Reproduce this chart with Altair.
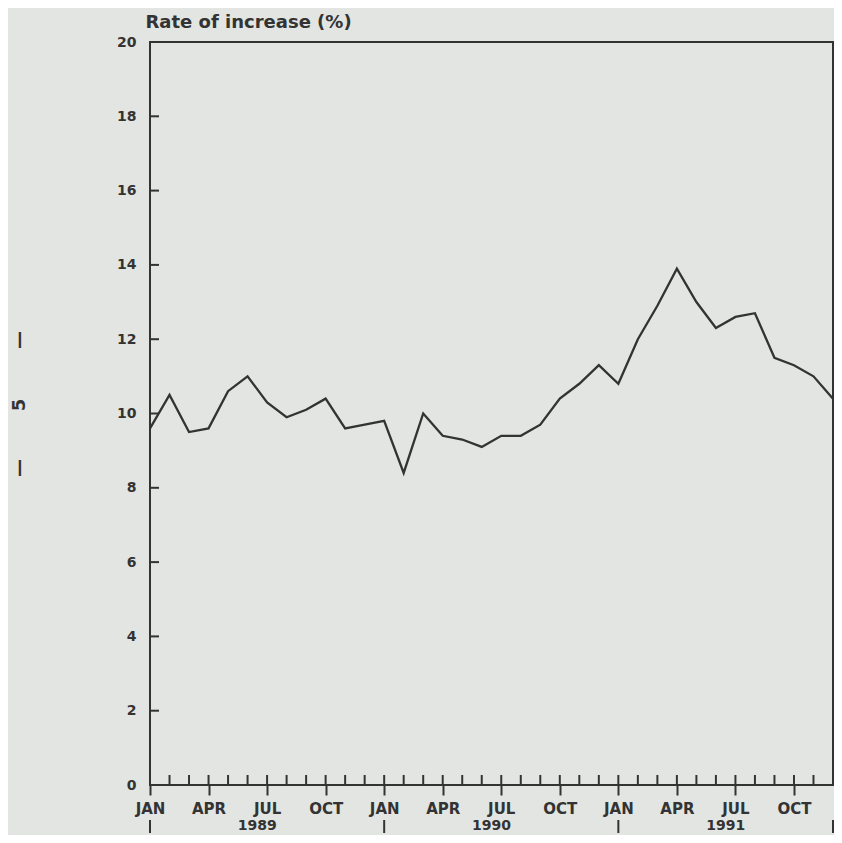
import altair as alt
import pandas as pd

# Monthly rate of increase (%), Jan 1989 .. Dec 1991
month_index = list(range(36))
rate = [9.6, 10.5, 9.5, 9.6, 10.6, 11.0, 10.3, 9.9, 10.1, 10.4, 9.6, 9.7,
        9.8, 8.4, 10.0, 9.4, 9.3, 9.1, 9.4, 9.4, 9.7, 10.4, 10.8, 11.3,
        10.8, 12.0, 12.9, 13.9, 13.0, 12.3, 12.6, 12.7, 11.5, 11.3, 11.0, 10.4]
quarter_ticks = [0, 3, 6, 9, 12, 15, 18, 21, 24, 27, 30, 33]
quarter_names = ["JAN", "APR", "JUL", "OCT"]
y_ticks = [0, 2, 4, 6, 8, 10, 12, 14, 16, 18, 20]
years = ["1989", "1990", "1991"]
year_centers = [5.5, 17.5, 29.5]
year_bounds = [0, 12, 24, 35]

INK = "#333333"
BG = "#e2e5e2"
FONT = "DejaVu Sans"

df = pd.DataFrame({"m": month_index, "v": rate})
df_yt = pd.DataFrame({"v": y_ticks[1:]})
df_mt = pd.DataFrame({"m": month_index})
df_yb = pd.DataFrame({"m": year_bounds})
df_yl = pd.DataFrame({"m": year_centers, "label": years})

x_scale = alt.Scale(domain=[0, 35], nice=False, zero=False)
y_scale = alt.Scale(domain=[0, 20], nice=False)

x_axis = alt.Axis(
    values=quarter_ticks,
    labelExpr="['JAN','APR','JUL','OCT'][floor(datum.value/3) % 4]",
    title=None, domain=False, grid=False,
    tickSize=10, tickColor=INK, tickWidth=2,
    labelPadding=6, labelFontSize=15, labelFont=FONT, labelFontWeight="bold",
    labelColor=INK, labelFlush=False, labelOverlap=False,
)
y_axis = alt.Axis(
    values=y_ticks, title="Rate of increase (%)", domain=False, grid=False,
    ticks=False, labelPadding=14, labelFontSize=14, labelFont=FONT,
    labelFontWeight="bold", labelColor=INK,
    titleAngle=0, titleX=-5, titleY=-15, titleAlign="left",
    titleBaseline="alphabetic", titleFontSize=18, titleFont=FONT,
    titleFontWeight="bold", titleColor=INK,
)

X = alt.X("m:Q", scale=x_scale, axis=x_axis)
Y = alt.Y("v:Q", scale=y_scale, axis=y_axis)

line = alt.Chart(df).mark_line(color=INK, strokeWidth=2.3).encode(x=X, y=Y)

y_inner_ticks = alt.Chart(df_yt).mark_rule(color=INK, strokeWidth=2).encode(
    y=Y, x=alt.value(0), x2=alt.value(9)
)

x_inner_ticks = alt.Chart(df_mt).mark_rule(color=INK, strokeWidth=2).encode(
    x=X, y=alt.value(743), y2=alt.value(733)
)

year_sep = alt.Chart(df_yb).mark_rule(color=INK, strokeWidth=2).encode(
    x=X, y=alt.value(778), y2=alt.value(791)
)

year_text = alt.Chart(df_yl).mark_text(
    font=FONT, fontSize=14, fontWeight="bold", color=INK, baseline="alphabetic"
).encode(x=X, y=alt.value(788), text="label:N")


def page_text(t, ypix):
    return alt.Chart(pd.DataFrame({"t": [t]})).mark_text(
        font=FONT, fontSize=18, fontWeight="bold", color=INK, angle=270,
        baseline="middle", align="center"
    ).encode(x=alt.value(-130), y=alt.value(ypix), text="t:N")


page_mark = page_text("—", 298) + page_text("5", 363) + page_text("—", 426)

chart = alt.layer(
    line, y_inner_ticks, x_inner_ticks, year_sep, year_text, page_mark
).properties(
    width=683, height=743,
    autosize="none",
    padding={"left": 142, "top": 34, "right": 1, "bottom": 50},
    background=BG,
).configure_view(stroke=INK, strokeWidth=2)

chart.save("out.html", embed_options={"renderer": "svg", "actions": False})
